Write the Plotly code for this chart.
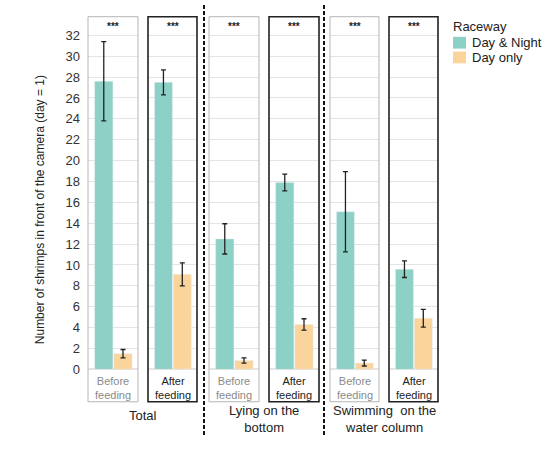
import plotly.graph_objects as go

W, H = 557, 452

# data
groups = ["Total", "Lying on the<br>bottom", "Swimming  on the<br>water column"]
feeding = ["Before<br>feeding", "After<br>feeding"] * 3
stars = ["***"] * 6
series = ["Day & Night", "Day only"]
day_night = [27.6, 27.5, 12.5, 17.9, 15.1, 9.6]
day_night_err = [3.8, 1.2, 1.45, 0.8, 3.85, 0.8]
day_only = [1.5, 9.1, 0.85, 4.3, 0.6, 4.9]
day_only_err = [0.4, 1.1, 0.25, 0.55, 0.28, 0.85]
y_ticks = list(range(0, 33, 2))

teal = "#8dd0c5"
orange = "#fbd49b"
font = "Liberation Sans, Arial, sans-serif"

# panel positions in pixels
panels_px = [(88, 138), (148, 197), (209, 259), (269, 319), (330, 379), (389, 438)]
y_top, y_zero, y_box_bottom = 17, 376, 409


def px(x):
    return x / W


def py(y):
    return 1 - y / H


def label(x, y, text, size, color, anchor="center", angle=0):
    return dict(x=px(x), y=py(y), xref="paper", yref="paper", text=text,
                showarrow=False, xanchor=anchor, yanchor="middle", textangle=angle,
                font=dict(size=size, color=color, family=font))


fig = go.Figure()
layout = {}
shapes = []
annotations = []

for i in range(6):
    n = "" if i == 0 else str(i + 1)
    xa, ya = "x" + n, "y" + n
    fig.add_trace(go.Bar(x=[series[0]], y=[day_night[i]], xaxis=xa, yaxis=ya,
                         width=0.95, marker_color=teal, showlegend=False,
                         error_y=dict(type="data", array=[day_night_err[i]],
                                      color="#222", thickness=1.3, width=2.5)))
    fig.add_trace(go.Bar(x=[series[1]], y=[day_only[i]], xaxis=xa, yaxis=ya,
                         width=0.95, marker_color=orange, showlegend=False,
                         error_y=dict(type="data", array=[day_only_err[i]],
                                      color="#222", thickness=1.3, width=2.5)))
    x0, x1 = panels_px[i]
    layout["xaxis" + n] = dict(domain=[px(x0), px(x1)], anchor=ya,
                               type="category", categoryorder="array",
                               categoryarray=series, range=[-0.82, 1.78],
                               showticklabels=False, showgrid=False,
                               zeroline=False, showline=False)
    layout["yaxis" + n] = dict(domain=[py(y_zero), py(y_top)], anchor=xa,
                               range=[0, (y_zero - y_top) / 10.625],
                               tickvals=y_ticks, showgrid=True,
                               gridcolor="#e4e4e4", gridwidth=1,
                               zeroline=True, zerolinecolor="#e4e4e4",
                               showline=False, showticklabels=(i == 0),
                               ticklabelstandoff=7,
                               tickfont=dict(size=13, color="#333", family=font))
    if i > 0:
        layout["yaxis" + n]["matches"] = "y"

    after = i % 2 == 1
    shapes.append(dict(type="rect", xref="paper", yref="paper",
                       x0=px(x0), x1=px(x1), y0=py(y_box_bottom), y1=py(y_top),
                       line=dict(color="#222" if after else "#b5b5b5",
                                 width=1.6 if after else 1)))
    xc = (x0 + x1) / 2
    annotations.append(label(xc, 27, "<b>" + stars[i] + "</b>", 10, "#222"))
    annotations.append(label(xc, 395, feeding[i], 11, "#222" if after else "#8a8a8a"))

# group labels
for g, (xl, xr) in enumerate([(88, 197), (209, 319), (330, 438)]):
    annotations.append(label((xl + xr) / 2, 423 if g == 0 else 427, groups[g], 13, "#222"))

# dashed separators
for xd in (204, 324):
    shapes.append(dict(type="line", xref="paper", yref="paper",
                       x0=px(xd), x1=px(xd), y0=py(5), y1=py(445),
                       line=dict(color="#111", width=2, dash="4px,2px")))

# y axis title
annotations.append(label(40, 214, "Number of shrimps in front of the camera (day = 1)",
                         12, "#222", angle=-90))

# legend
annotations.append(label(451, 27, "Raceway", 13, "#222", anchor="left"))
for k, (col, yy) in enumerate([(teal, 43.5), (orange, 58.5)]):
    shapes.append(dict(type="rect", xref="paper", yref="paper",
                       x0=px(453), x1=px(466), y0=py(yy + 6), y1=py(yy - 6),
                       fillcolor=col, line=dict(width=0)))
    annotations.append(label(470, yy, series[k], 13, "#222", anchor="left"))

fig.update_layout(width=W, height=H, margin=dict(l=0, r=0, t=0, b=0),
                  paper_bgcolor="white", plot_bgcolor="white",
                  barmode="overlay", showlegend=False,
                  shapes=shapes, annotations=annotations, **layout)

fig.write_html("out.html", config={"displayModeBar": False},
               post_script="document.body.style.margin='0px';"
                           "document.body.style.overflow='hidden';"
                           "document.documentElement.style.overflow='hidden';")
